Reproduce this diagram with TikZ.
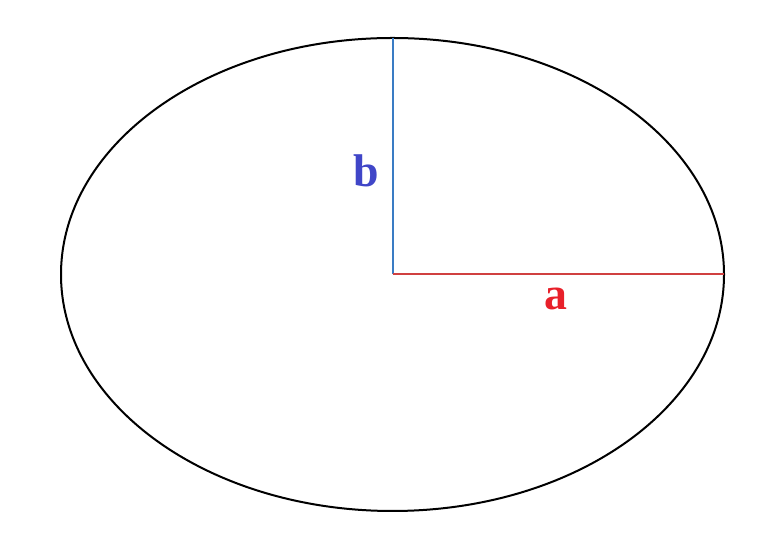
\documentclass[tikz,border=0pt]{standalone}
\usepackage{fontspec}
\setmainfont{Liberation Serif}
\definecolor{bcol}{HTML}{4046C8}
\definecolor{bline}{HTML}{3A7CC4}
\definecolor{acol}{HTML}{E8202A}
\definecolor{aline}{HTML}{D04040}
\begin{document}
\begin{tikzpicture}[x=1bp,y=1bp,
  lbl/.style={font=\fontsize{46}{46}\selectfont\bfseries, inner sep=0pt}]
\useasboundingbox (0,0) rectangle (781,549);
\coordinate (c) at (392.5,274.5);
\coordinate (top) at (392.5,511);
\coordinate (right) at (724,274.5);
\draw[line width=2bp] (c) ellipse [x radius=331.5, y radius=236.5];
\draw[bline, line width=2bp] (c) -- (top);
\draw[aline, line width=2bp] (c) -- (right);
\node[lbl, text=bcol] (b) at (366,378) {b};
\node[lbl, text=acol] (a) at (556,250) {a};
\end{tikzpicture}
\end{document}
